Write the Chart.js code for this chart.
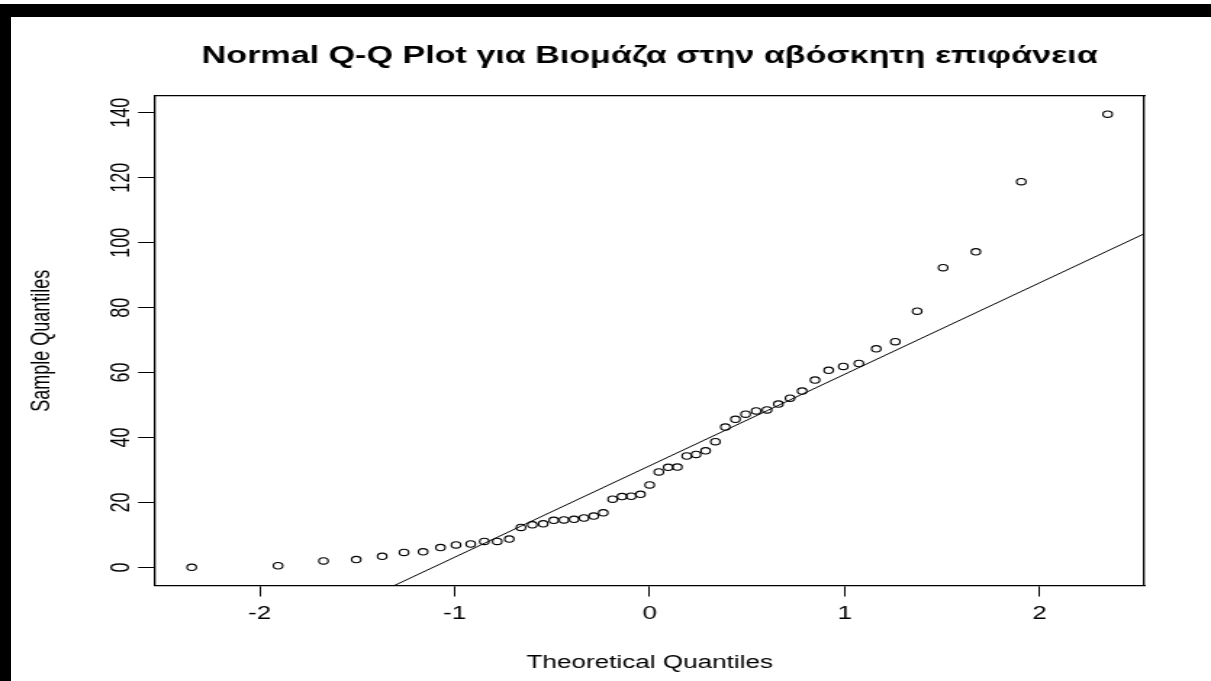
<!DOCTYPE html>
<html><head><meta charset="utf-8">
<script src="https://cdn.jsdelivr.net/npm/chart.js@4.4.0/dist/chart.umd.min.js"></script>
<style>
html,body{margin:0;padding:0;background:#fff;overflow:hidden;width:1211px;height:681px;}
#wrap{position:absolute;left:0;top:0;width:835px;height:681px;transform:scaleX(1.4503);transform-origin:0 0;}
#bt{position:absolute;left:0;top:4px;width:1211px;height:13px;background:#000;}
#bl{position:absolute;left:0;top:4px;width:11px;height:677px;background:#000;}
</style></head><body>
<div id="wrap"><canvas id="c" width="835" height="681" style="width:835px;height:681px"></canvas></div>
<div id="bt"></div><div id="bl"></div>
<script>
const theoreticalQuantiles = [-2.349,-1.906,-1.673,-1.505,-1.372,-1.260,-1.162,-1.073,-0.993,-0.918,-0.848,-0.782,-0.720,-0.660,-0.602,-0.546,-0.492,-0.440,-0.388,-0.337,-0.287,-0.238,-0.190,-0.142,-0.095,-0.047,0,0.047,0.095,0.142,0.190,0.238,0.287,0.337,0.388,0.440,0.492,0.546,0.602,0.660,0.720,0.782,0.848,0.918,0.993,1.073,1.162,1.260,1.372,1.505,1.673,1.906,2.349];
const sampleQuantiles = [0,0.5,2.0,2.4,3.4,4.6,4.8,6.1,6.9,7.2,8.0,8.0,8.7,12.3,13.1,13.4,14.5,14.6,14.8,15.2,15.8,16.8,21.0,21.8,21.9,22.5,25.4,29.4,30.8,30.9,34.3,34.8,35.9,38.7,43.2,45.6,47.2,48.2,48.5,50.3,52.1,54.3,57.7,60.7,61.9,62.8,67.3,69.5,78.9,92.3,97.2,118.8,139.6];
const xTickValues = [-2,-1,0,1,2];
const yTickValues = [0,20,40,60,80,100,120,140];
const titleText = 'Normal Q-Q Plot για Βιομάζα στην αβόσκητη επιφάνεια';
const xAxisTitle = 'Theoretical Quantiles';
const yAxisTitle = 'Sample Quantiles';

const FONT = '"Liberation Sans", Arial, sans-serif';
function quantile7(sorted, p){ const h=(sorted.length-1)*p; const lo=Math.floor(h); const hi=Math.min(lo+1,sorted.length-1); return sorted[lo]+(h-lo)*(sorted[hi]-sorted[lo]); }
const sorted = sampleQuantiles.slice().sort((a,b)=>a-b);
const q1 = quantile7(sorted,0.25), q3 = quantile7(sorted,0.75);
const z = 0.6744897501960817;
const slope = (q3-q1)/(2*z), intercept = (q1+q3)/2;
function ext(arr){const mn=Math.min(...arr), mx=Math.max(...arr), d=(mx-mn)*0.04; return [mn-d, mx+d];}
const [xMin,xMax] = ext(theoreticalQuantiles);
const [yMin,yMax] = ext(sampleQuantiles);
const lineData = [xMin-1, xMax+1].map(x => ({x, y: intercept + slope*x}));
const pointData = theoreticalQuantiles.map((x,i)=>({x, y: sampleQuantiles[i]}));

const H = 681, PLOT_BOTTOM = 585.5, PLOT_LEFT = 106.9, PLOT_RIGHT = 789;

new Chart(document.getElementById('c'), {
  type: 'scatter',
  data: { datasets: [
    { data: lineData, showLine: true, pointRadius: 0, borderColor: '#000', borderWidth: 1, fill: false },
    { data: pointData, pointStyle: 'circle', pointRadius: 3.2, borderWidth: 1.1, borderColor: '#000', backgroundColor: 'rgba(0,0,0,0)' }
  ]},
  options: {
    responsive: false, animation: false, devicePixelRatio: 1,
    layout: { padding: { left: 0, right: 835 - PLOT_RIGHT, top: 0, bottom: 0 } },
    plugins: {
      legend: { display: false }, tooltip: { enabled: false },
      title: { display: true, fullSize: false, text: titleText, color: '#000', font: { family: FONT, size: 23.5, weight: 'bold' }, padding: { top: 42.9, bottom: 24.9 } }
    },
    scales: {
      x: { type: 'linear', position: 'bottom', min: xMin, max: xMax,
        afterBuildTicks: s => { s.ticks = xTickValues.map(v => ({ value: v })); },
        afterFit: s => { s.height = H - PLOT_BOTTOM; },
        grid: { display: true, drawOnChartArea: false, drawTicks: true, tickLength: 11, tickColor: '#000', tickWidth: 1 },
        border: { display: true, color: '#000', width: 1.3 },
        ticks: { color: '#000', font: { family: FONT, size: 18 }, padding: 7, minRotation: 0, maxRotation: 0, callback: v => String(v) },
        title: { display: true, text: xAxisTitle, color: '#000', font: { family: FONT, size: 18 }, padding: { top: 0, bottom: 7 } }
      },
      y: { type: 'linear', position: 'left', min: yMin, max: yMax,
        afterBuildTicks: s => { s.ticks = yTickValues.map(v => ({ value: v })); },
        afterFit: s => { s.width = PLOT_LEFT; },
        grid: { display: true, drawOnChartArea: false, drawTicks: true, tickLength: 11.7, tickColor: '#000', tickWidth: 1 },
        border: { display: true, color: '#000', width: 1.3 },
        ticks: { color: '#000', font: { family: FONT, size: 18 }, padding: -4, minRotation: 90, maxRotation: 90, crossAlign: 'center', callback: v => String(v) },
        title: { display: true, text: yAxisTitle, color: '#000', font: { family: FONT, size: 18 }, padding: { top: 18, bottom: 0 } }
      },
      x2: { type: 'linear', position: 'top', min: xMin, max: xMax,
        afterFit: s => { s.height = 0; },
        grid: { display: false, drawTicks: false }, ticks: { display: false },
        border: { display: true, color: '#000', width: 1.3 } },
      y2: { type: 'linear', position: 'right', min: yMin, max: yMax,
        afterFit: s => { s.width = 0; },
        grid: { display: false, drawTicks: false }, ticks: { display: false },
        border: { display: true, color: '#000', width: 1.3 } }
    }
  }
});
</script></body></html>
